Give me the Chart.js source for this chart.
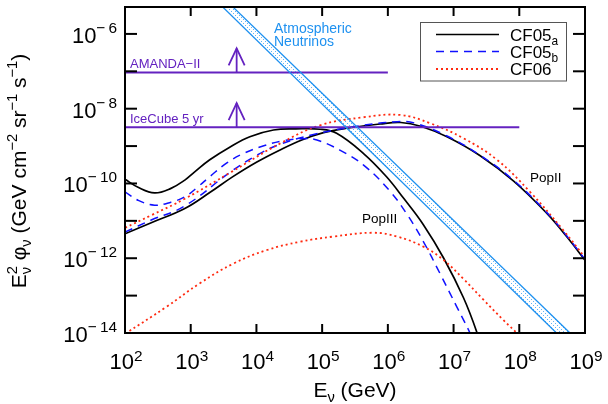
<!DOCTYPE html>
<html>
<head>
<meta charset="utf-8">
<script src="https://cdn.jsdelivr.net/npm/chart.js@4.4.0/dist/chart.umd.min.js"></script>
<style>body{margin:0;background:#fff}</style>
</head>
<body>
<canvas id="fluxChart" width="608" height="404"></canvas>
<script>
// Energies in GeV, fluxes as E^2 phi in GeV cm^-2 sr^-1 s^-1

// PopIII models
const cf05aIIIE = [100, 158, 282, 501, 813, 1150, 1950, 3980, 7940, 18200, 39800, 93300, 166000, 427000, 955000, 1.74e6, 3.47e6, 7.08e6, 1.41e7, 2.24e7, 2.6e7];
const cf05aIIIF = [1.29e-10, 7.9e-11, 5.6e-11, 7.4e-11, 1.23e-10, 2.04e-10, 4.3e-10, 9.5e-10, 1.78e-9, 2.69e-9, 2.88e-9, 2.82e-9, 2.19e-9, 6.3e-10, 1.51e-10, 4.0e-11, 7.9e-12, 1.0e-12, 8.9e-14, 1.1e-14, 4e-15];

const cf05bIIIE = [100, 158, 282, 501, 813, 1260, 2000, 3550, 6310, 12600, 25100, 50100, 83200, 186000, 427000, 1.07e6, 2.0e6, 3.47e6, 6.17e6, 1.12e7, 1.78e7, 2.1e7];
const cf05bIIIF = [6.0e-11, 3.55e-11, 2.63e-11, 3.16e-11, 4.37e-11, 7.9e-11, 1.58e-10, 3.55e-10, 6.3e-10, 1.0e-9, 1.38e-9, 1.58e-9, 1.45e-9, 7.8e-10, 3.1e-10, 6.3e-11, 1.41e-11, 2.8e-12, 4.0e-13, 5.0e-14, 1.0e-14, 5e-15];

const cf06IIIE = [100, 427, 1380, 4470, 14500, 45700, 148000, 603000, 1.38e6, 3.47e6, 7.08e6, 1.41e7, 2.82e7, 5.75e7, 9.55e7, 1.1e8];
const cf06IIIF = [9.5e-15, 5.0e-14, 2.14e-13, 7.2e-13, 1.66e-12, 2.75e-12, 3.8e-12, 4.8e-12, 3.8e-12, 2.04e-12, 8.9e-13, 2.8e-13, 7.9e-14, 2.2e-14, 9.3e-15, 7e-15];

// PopII models
const cf05aIIE = [100, 251, 813, 2000, 4270, 10000, 22900, 50100, 105000, 234000, 759000, 1.58e6, 3.16e6, 7.94e6, 2.51e7, 8.13e7, 2.63e8, 5.25e8, 1e9];
const cf05aIIF = [4.5e-12, 8.9e-12, 2.14e-11, 5.9e-11, 1.48e-10, 3.7e-10, 7.9e-10, 1.48e-9, 2.29e-9, 3.0e-9, 3.9e-9, 4.27e-9, 3.4e-9, 1.78e-9, 5.6e-10, 1.17e-10, 1.58e-11, 3.8e-12, 8.9e-13];

const cf05bIIE = [100, 251, 813, 3980, 10000, 22900, 74100, 339000, 1.38e6, 2.51e6, 7.94e6, 2.51e7, 8.13e7, 2.63e8, 5.25e8, 1e9];
const cf05bIIF = [5.0e-12, 1.05e-11, 2.5e-11, 2.0e-10, 5.6e-10, 1.12e-9, 2.04e-9, 3.4e-9, 4.47e-9, 4.17e-9, 1.86e-9, 5.75e-10, 1.23e-10, 1.66e-11, 4.0e-12, 9.3e-13];

const cf06IIE = [100, 251, 813, 4170, 22900, 93300, 427000, 1.55e6, 4.37e6, 1.41e7, 4.57e7, 1.45e8, 4.68e8, 1e9];
const cf06IIF = [6.5e-12, 1.41e-11, 3.9e-11, 2.04e-10, 1.17e-9, 3.6e-9, 5.9e-9, 6.8e-9, 4.1e-9, 1.62e-9, 4.3e-10, 6.0e-11, 5.6e-12, 1.05e-12];

// atmospheric neutrino band (two power-law edges)
const atmoE = [1e3, 1e9];
const atmoLowF = [3.6e-5, 1.8e-15];
const atmoHighF = [6.5e-5, 4.1e-15];

// experimental upper limits
const amandaE = [1e2, 1e6];
const amandaF = [9.3e-8, 9.3e-8];
const icecubeE = [1e2, 1e8];
const icecubeF = [3.2e-9, 3.2e-9];
const arrowE = 5e3;

// axes
const xTickValues = [1e2, 1e3, 1e4, 1e5, 1e6, 1e7, 1e8, 1e9];
const xTickExps = ['2', '3', '4', '5', '6', '7', '8', '9'];
const yTickValues = [1e-14, 1e-13, 1e-12, 1e-11, 1e-10, 1e-9, 1e-8, 1e-7, 1e-6];
const yLabelValues = [1e-14, 1e-12, 1e-10, 1e-8, 1e-6];
const yLabelExps = ['\u2212\u200914', '\u2212\u200912', '\u2212\u200910', '\u2212\u20098', '\u2212\u20096'];

const FONT = '"Liberation Sans", Arial, sans-serif';
const BLACK = '#000';
const BLUE = '#1010ff';
const RED = '#ff2a10';
const PURPLE = '#6422c0';
const ATMO = 'rgb(30,145,240)';

const pts = (es, fs) => es.map((e, i) => ({ x: e, y: fs[i] }));

// dotted fill for the atmospheric band
const dotTile = document.createElement('canvas');
dotTile.width = 4; dotTile.height = 4;
const dctx = dotTile.getContext('2d');
dctx.fillStyle = 'rgba(30,145,240,0.7)';
dctx.fillRect(1, 1, 1, 1);
dctx.fillRect(3, 3, 1, 1);
const dotPattern = dctx.createPattern(dotTile, 'repeat');

function curve(es, fs, color, dash, width) {
    return {
        data: pts(es, fs),
        showLine: true,
        borderColor: color,
        borderWidth: width,
        borderDash: dash,
        pointRadius: 0,
        fill: false,
        tension: 0.4,
        clip: 0
    };
}

function straight(es, fs, color, width) {
    return { data: pts(es, fs), showLine: true, borderColor: color, borderWidth: width, pointRadius: 0, fill: false, clip: 0 };
}

// draw text with superscripts/subscripts: parts = [[text, kind]]
function partWidth(ctx, p, size) {
    const [t, kind] = p;
    if (!kind) { ctx.font = size + 'px ' + FONT; return ctx.measureText(t).width; }
    ctx.font = (size * 0.7) + 'px ' + FONT;
    if (kind === 'both') return Math.max(ctx.measureText(t[0]).width, ctx.measureText(t[1]).width);
    return ctx.measureText(t).width;
}
function drawRich(ctx, parts, x, y, size, align, raise) {
    raise = raise || size * 0.42;
    const total = parts.reduce((s, p) => s + partWidth(ctx, p, size), 0);
    let cx = align === 'center' ? x - total / 2 : align === 'right' ? x - total : x;
    ctx.textAlign = 'left';
    ctx.textBaseline = 'alphabetic';
    parts.forEach(p => {
        const w = partWidth(ctx, p, size);
        const [t, kind] = p;
        if (!kind) ctx.fillText(t, cx, y);
        else if (kind === 'sup') ctx.fillText(t, cx, y - raise);
        else if (kind === 'sub') ctx.fillText(t, cx, y + size * 0.25);
        else { ctx.fillText(t[0], cx, y - raise); ctx.fillText(t[1], cx, y + size * 0.25); }
        cx += w;
    });
}

const framePlugin = {
    id: 'frame',
    afterDatasetsDraw(chart) {
        const { ctx, chartArea: a, scales: { x, y } } = chart;
        ctx.save();
        const seg = (x1, y1, x2, y2) => { ctx.beginPath(); ctx.moveTo(x1, y1); ctx.lineTo(x2, y2); ctx.stroke(); };

        // limit arrows
        ctx.strokeStyle = PURPLE;
        ctx.lineWidth = 1.8;
        [amandaF[0], icecubeF[0]].forEach(v => {
            const px = x.getPixelForValue(arrowE), py = y.getPixelForValue(v);
            seg(px, py, px, py - 24);
            ctx.beginPath();
            ctx.moveTo(px - 8, py - 7);
            ctx.lineTo(px, py - 24);
            ctx.lineTo(px + 8, py - 7);
            ctx.stroke();
        });

        // frame and inward ticks
        ctx.strokeStyle = BLACK;
        ctx.lineWidth = 2;
        ctx.strokeRect(a.left, a.top, a.right - a.left, a.bottom - a.top);
        xTickValues.forEach(v => {
            const px = x.getPixelForValue(v);
            seg(px, a.bottom, px, a.bottom - 9);
            seg(px, a.top, px, a.top + 9);
        });
        yTickValues.forEach(v => {
            const py = y.getPixelForValue(v);
            seg(a.left, py, a.left + 12, py);
            seg(a.right, py, a.right - 12, py);
        });

        // tick labels
        ctx.fillStyle = BLACK;
        xTickValues.forEach((v, i) => {
            drawRich(ctx, [['10', ''], [xTickExps[i], 'sup']], x.getPixelForValue(v) + 1, a.bottom + 36, 22, 'center', 8);
        });
        yLabelValues.forEach((v, i) => {
            drawRich(ctx, [['10', ''], [yLabelExps[i], 'sup']], a.left - 8, y.getPixelForValue(v) + 9, 22, 'right', 10);
        });

        // axis titles
        drawRich(ctx, [['E', ''], ['\u03bd', 'sub'], [' (GeV)', '']], 355, 397, 21, 'center');
        ctx.save();
        ctx.translate(26, 171);
        ctx.rotate(-Math.PI / 2);
        drawRich(ctx, [['E', ''], [['2', '\u03bd'], 'both'], [' \u03c6', ''], ['\u03bd', 'sub'],
            [' (GeV cm', ''], ['\u22122', 'sup'], [' sr', ''], ['\u22121', 'sup'], [' s', ''], ['\u22121', 'sup'], [')', '']],
            0, 0, 21, 'center');
        ctx.restore();

        // annotations
        ctx.font = '13px ' + FONT;
        ctx.fillStyle = PURPLE;
        ctx.fillText('AMANDA\u2212II', a.left + 5, y.getPixelForValue(amandaF[0]) - 4);
        ctx.fillText('IceCube 5 yr', a.left + 5, y.getPixelForValue(icecubeF[0]) - 4);
        ctx.fillStyle = ATMO;
        ctx.font = '14px ' + FONT;
        ctx.fillText('Atmospheric', 274, 33);
        ctx.fillText('Neutrinos', 274, 46);
        ctx.fillStyle = BLACK;
        ctx.font = '13.5px ' + FONT;
        ctx.fillText('PopII', 530, 182);
        ctx.fillText('PopIII', 362, 223);

        // legend
        ctx.fillStyle = '#fff';
        ctx.fillRect(420, 22, 146, 59);
        ctx.strokeStyle = '#555';
        ctx.lineWidth = 1;
        ctx.strokeRect(420.5, 22.5, 146, 58.5);
        const rows = [
            { y: 34.5, color: BLACK, dash: [], w: 1.6, name: 'CF05', sub: 'a' },
            { y: 51.5, color: BLUE, dash: [8, 6], w: 1.5, name: 'CF05', sub: 'b' },
            { y: 69, color: RED, dash: [2, 3], w: 1.8, name: 'CF06', sub: '' }
        ];
        rows.forEach(r => {
            ctx.strokeStyle = r.color;
            ctx.lineWidth = r.w;
            ctx.setLineDash(r.dash);
            seg(436, r.y, 499, r.y);
            ctx.setLineDash([]);
            ctx.fillStyle = BLACK;
            const parts = [[r.name, '']];
            if (r.sub) parts.push([r.sub, 'sub']);
            drawRich(ctx, parts, 510, r.y + 6, 17, 'left');
        });
        ctx.restore();
    }
};

new Chart(document.getElementById('fluxChart'), {
    type: 'scatter',
    data: {
        datasets: [
            straight(atmoE, atmoLowF, ATMO, 1.3),
            Object.assign(straight(atmoE, atmoHighF, ATMO, 1.3), { fill: '-1', backgroundColor: dotPattern }),
            straight(amandaE, amandaF, PURPLE, 2),
            straight(icecubeE, icecubeF, PURPLE, 2),
            curve(cf06IIIE, cf06IIIF, RED, [2, 3], 1.8),
            curve(cf06IIE, cf06IIF, RED, [2, 3], 1.8),
            curve(cf05bIIIE, cf05bIIIF, BLUE, [8, 6], 1.5),
            curve(cf05bIIE, cf05bIIF, BLUE, [8, 6], 1.5),
            curve(cf05aIIIE, cf05aIIIF, BLACK, [], 1.7),
            curve(cf05aIIE, cf05aIIF, BLACK, [], 1.7)
        ]
    },
    options: {
        responsive: false,
        animation: false,
        layout: { padding: { left: 125, right: 23, top: 7, bottom: 71 } },
        plugins: { legend: { display: false }, tooltip: { enabled: false } },
        scales: {
            x: { type: 'logarithmic', min: 1e2, max: 1e9, display: false },
            y: { type: 'logarithmic', min: 1e-14, max: 5.25e-6, display: false }
        }
    },
    plugins: [framePlugin]
});
</script>
</body>
</html>
